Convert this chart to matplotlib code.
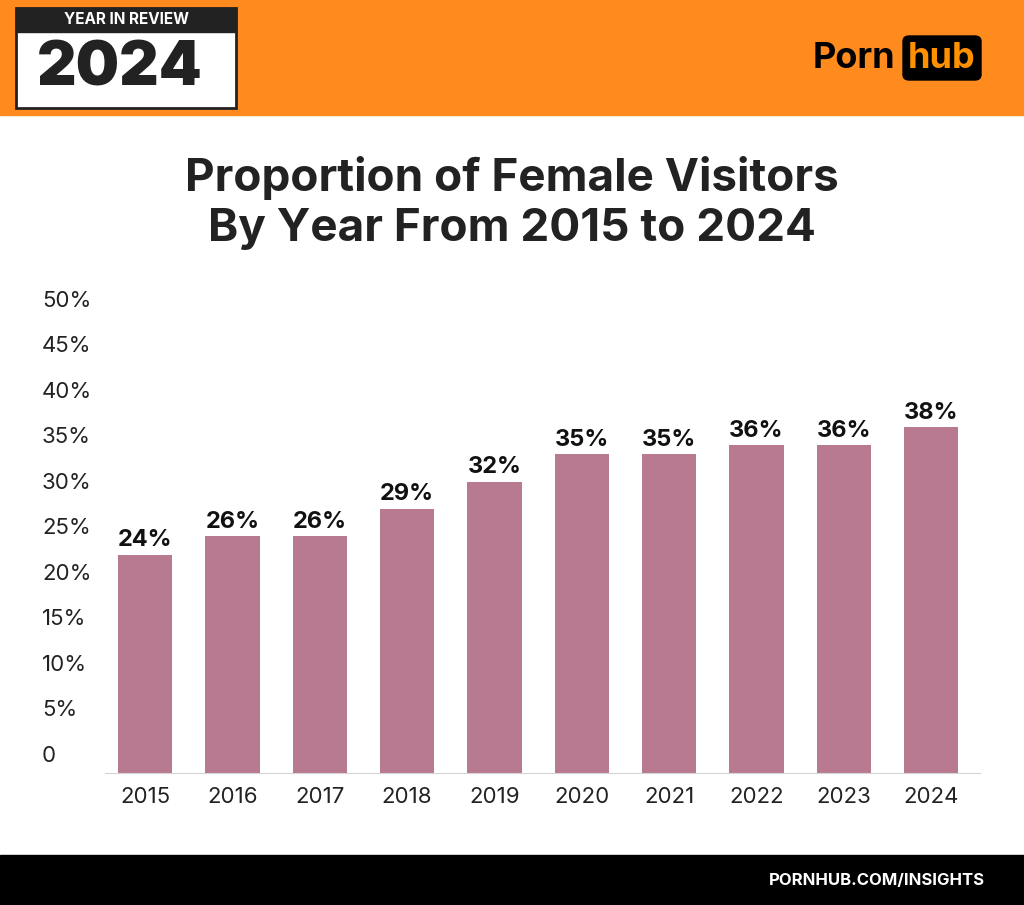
import matplotlib
matplotlib.use("Agg")
import matplotlib.pyplot as plt
import matplotlib.transforms as mtrans
from matplotlib.patches import Rectangle, FancyBboxPatch

years = ["2015","2016","2017","2018","2019","2020","2021","2022","2023","2024"]
values = [24, 26, 26, 29, 32, 35, 35, 36, 36, 38]
yticks = [0, 5, 10, 15, 20, 25, 30, 35, 40, 45, 50]
ytick_labels = ["0"] + [f"{v}%" for v in yticks[1:]]

plt.rcParams["font.family"] = "Inter"
W, H = 1024, 905
fig = plt.figure(figsize=(W/100, H/100), dpi=100)
fig.patch.set_facecolor("white")

# header band
fig.patches.append(Rectangle((0, 1-115/H), 1, 115/H, transform=fig.transFigure, color="#FF8A1E", zorder=0))
fig.patches.append(Rectangle((16/W, 1-108/H), 220/W, 100/H, transform=fig.transFigure, facecolor="#FFFFFF", edgecolor="#222", lw=2, zorder=1))
fig.patches.append(Rectangle((16/W, 1-32/H), 220/W, 24/H, transform=fig.transFigure, color="#222", zorder=2))
fig.text(126/W, 1-20/H, "YEAR IN REVIEW", color="white", fontsize=11, fontweight="bold", ha="center", va="center", zorder=3)
fig.text(120/W, 1-70/H, "2024", color="#222", fontsize=44, fontweight="black", ha="center", va="center", zorder=3)
fig.text(895/W, 1-58/H, "Porn", color="black", fontsize=26, fontweight="bold", ha="right", va="center")
fig.patches.append(FancyBboxPatch((903/W, 1-80/H), 78/W, 44/H, boxstyle="round,pad=0,rounding_size=0.006",
                                  transform=fig.transFigure, color="black"))
fig.text(942/W, 1-58/H, "hub", color="#FF9000", fontsize=26, fontweight="bold", ha="center", va="center")

# footer
fig.patches.append(Rectangle((0, 0), 1, 50/H, transform=fig.transFigure, color="black"))
fig.text(985/W, 25/H, "PORNHUB.COM/INSIGHTS", color="white", fontsize=12, fontweight="bold", ha="right", va="center")

# title
fig.text(0.5, 1-203/H, "Proportion of Female Visitors\nBy Year From 2015 to 2024", ha="center", va="center",
         fontsize=33, fontweight="bold", color="#222", linespacing=1.25)

ax = fig.add_axes([105/W, 132/H, 875/W, 455/H])
x = list(range(len(years)))
ax.bar(x, values, width=0.62, color="#B87A90")
for xi, v in zip(x, values):
    ax.text(xi, v + 0.4, f"{v}%", ha="center", va="bottom", fontsize=17, fontweight="bold", color="#111")
ax.set_xlim(-0.46, 9.56)
ax.set_ylim(0, 50)
ax.set_xticks(x)
ax.set_xticklabels(years, fontsize=16, color="#222")
ax.tick_params(axis="x", length=0, pad=10)
ax.set_yticks([])
for s in ["top", "right", "left"]:
    ax.spines[s].set_visible(False)
ax.spines["bottom"].set_color("#D5D5D5")
tr = mtrans.blended_transform_factory(fig.transFigure, ax.transData)
for t, lab in zip(yticks, ytick_labels):
    ax.text(42/W, t + 0.8, lab, transform=tr, ha="left", va="bottom", fontsize=16, color="#222")

fig.savefig("out.png", dpi=100)
